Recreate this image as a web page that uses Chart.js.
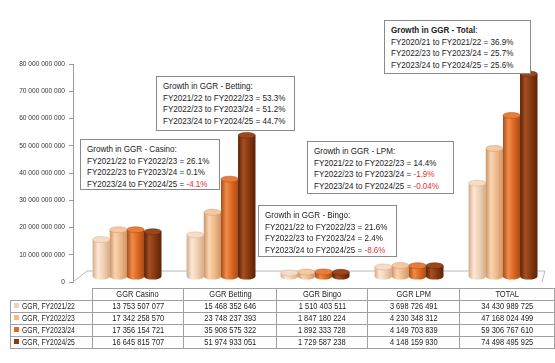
<!DOCTYPE html>
<html>
<head>
<meta charset="utf-8">
<script src="https://cdn.jsdelivr.net/npm/chart.js@4.4.1/dist/chart.umd.min.js"></script>
<style>
  html, body { margin: 0; padding: 0; background: #fff; }
  #wrap { position: relative; width: 555px; height: 363px; overflow: hidden;
          font-family: 'Liberation Sans', Arial, sans-serif; color: #222; }
  #chartBox { position: absolute; left: 0; top: 0; width: 555px; height: 290px; }
  .note { position: absolute; background: #fff; border: 1px solid #8a8a8a; box-sizing: border-box;
          padding: 3px 0 0 6px; font-size: 9.5px; line-height: 11.6px; white-space: nowrap; }
  .note .in { transform: scaleX(0.85); transform-origin: 0 0; }
  .neg { color: #e0303a; }
  #table { position: absolute; left: 10px; top: 288px; border-collapse: collapse; table-layout: fixed; font-size: 9px; }
  #table td { height: 11px; padding: 0; border: 1px solid #a0a0a0; text-align: center; line-height: 11px; white-space: nowrap; }
  #table td span.t { display: inline-block; transform: scaleX(0.83); }
  #table td.leg { text-align: left; padding-left: 3px; }
  #table td.leg span.t { transform: scaleX(0.76); transform-origin: 0 50%; }
  #table td.blank { border: none; }
  .sw { display: inline-block; width: 5px; height: 5px; margin-right: 3px; vertical-align: 1px; }
</style>
</head>
<body>
<div id="wrap">
  <div id="chartBox"><canvas id="ggrChart"></canvas></div>
  <table id="table"></table>
</div>
<script>
const categories = ['GGR Casino', 'GGR Betting', 'GGR Bingo', 'GGR LPM', 'TOTAL'];
const seriesNames = ['GGR, FY2021/22', 'GGR, FY2022/23', 'GGR, FY2023/24', 'GGR, FY2024/25'];
const ggr2122 = [13753507077, 15468352646, 1510403511, 3698726491, 34430989725];
const ggr2223 = [17342258570, 23748237393, 1847180224, 4230348312, 47168024499];
const ggr2324 = [17356154721, 35908575322, 1892333728, 4149703839, 59306767610];
const ggr2425 = [16645815707, 51974933051, 1729587238, 4148159930, 74498495925];
const yMax = 80000000000;
const yStep = 10000000000;

// growth notes: [title, [label, value] x3]
const notesCasino = ['Growth in GGR - Casino:', [['FY2021/22 to FY2022/23 = ', '26.1%'], ['FY2022/23 to FY2023/24 = ', '0.1%'], ['FY2023/24 to FY2024/25 = ', '-4.1%']]];
const notesBetting = ['Growth in GGR - Betting:', [['FY2021/22 to FY2022/23 = ', '53.3%'], ['FY2022/23 to FY2023/24 = ', '51.2%'], ['FY2023/24 to FY2024/25 = ', '44.7%']]];
const notesBingo = ['Growth in GGR - Bingo:', [['FY2021/22 to FY2022/23 = ', '21.6%'], ['FY2022/23 to FY2023/24 = ', '2.4%'], ['FY2023/24 to FY2024/25 = ', '-8.6%']]];
const notesLpm = ['Growth in GGR - LPM:', [['FY2021/22 to FY2022/23 = ', '14.4%'], ['FY2022/23 to FY2023/24 = ', '-1.9%'], ['FY2023/24 to FY2024/25 = ', '-0.04%']]];
const notesTotal = ['Growth in GGR - Total', [['FY2020/21 to FY2021/22 = ', '36.9%'], ['FY2022/23 to FY2023/24 = ', '25.7%'], ['FY2023/24 to FY2024/25 = ', '25.6%']]];

// cylinder shades per series
const shades = [
  { base: '#f3d2b4', light: '#fbe8d8', dark: '#d4ad8c', top: '#f6dcc6' },
  { base: '#f0bc8c', light: '#f9d4b2', dark: '#cf9566', top: '#f4c9a2' },
  { base: '#e06a24', light: '#ef8c4c', dark: '#a94c16', top: '#e87c3a' },
  { base: '#8a3a12', light: '#a64f22', dark: '#5a2208', top: '#9a4719' }
];

function fmt(n) {
  return String(Math.round(n)).replace(/\B(?=(\d{3})+(?!\d))/g, ' ');
}

// Growth boxes
function addNote(note, left, top, w, h, boldTitle) {
  const d = document.createElement('div');
  d.className = 'note';
  Object.assign(d.style, { left: left + 'px', top: top + 'px', width: w + 'px', height: h + 'px' });
  let html = boldTitle ? '<b>' + note[0] + '</b>:' : note[0];
  note[1].forEach(([lab, val]) => {
    const cls = val.startsWith('-') ? ' class="neg"' : '';
    html += '<br>' + lab + '<span' + cls + '>' + val + '</span>';
  });
  d.innerHTML = '<div class="in">' + html + '</div>';
  document.getElementById('wrap').appendChild(d);
}

// Data table under the chart
function buildTable() {
  const t = document.getElementById('table');
  const colW = [63, 93, 94, 93, 94, 96];
  let html = '<tr><td class="blank" style="width:' + colW[0] + 'px"></td>';
  categories.forEach((c, i) => { html += '<td style="width:' + colW[i + 1] + 'px"><span class="t">' + c + '</span></td>'; });
  html += '</tr>';
  [ggr2122, ggr2223, ggr2324, ggr2425].forEach((row, s) => {
    html += '<tr><td class="leg"><span class="sw" style="background:' + shades[s].base + '"></span><span class="t">' + seriesNames[s] + '</span></td>';
    row.forEach(v => { html += '<td><span class="t">' + fmt(v) + '</span></td>'; });
    html += '</tr>';
  });
  t.innerHTML = html;
}

// 3D-ish floor + cylinders
const depthX = 7, depthY = -5;
const cylinderPlugin = {
  id: 'cylinders',
  beforeDatasetsDraw(chart) {
    const { ctx, chartArea: a } = chart;
    ctx.save();
    ctx.strokeStyle = '#b8b8b8';
    ctx.lineWidth = 1;
    ctx.beginPath();
    ctx.moveTo(a.left, a.bottom);
    ctx.lineTo(a.left + 14, a.bottom - 11);
    ctx.lineTo(a.right + 2, a.bottom - 11);
    ctx.lineTo(a.right - 1, a.bottom);
    ctx.stroke();
    ctx.restore();
    ctx.save();
    ctx.translate(depthX, depthY);
  },
  afterDatasetsDraw(chart) {
    const ctx = chart.ctx;
    chart.data.datasets.forEach((ds, di) => {
      const sh = shades[di];
      chart.getDatasetMeta(di).data.forEach(bar => {
        const { x, y, base, width } = bar.getProps(['x', 'y', 'base', 'width'], true);
        const l = x - width / 2, r = x + width / 2, rx = width / 2, ry = 3;
        const g = ctx.createLinearGradient(l, 0, r, 0);
        g.addColorStop(0, sh.dark);
        g.addColorStop(0.3, sh.light);
        g.addColorStop(0.6, sh.base);
        g.addColorStop(1, sh.dark);
        ctx.beginPath();
        ctx.moveTo(l, y);
        ctx.lineTo(l, base);
        ctx.ellipse(x, base, rx, ry, 0, Math.PI, 0, true);
        ctx.lineTo(r, y);
        ctx.closePath();
        ctx.fillStyle = g;
        ctx.fill();
        ctx.beginPath();
        ctx.ellipse(x, y, rx, ry, 0, 0, Math.PI * 2);
        ctx.fillStyle = sh.top;
        ctx.fill();
        ctx.strokeStyle = sh.dark;
        ctx.lineWidth = 0.5;
        ctx.stroke();
      });
    });
    ctx.restore();
  }
};

const series = [ggr2122, ggr2223, ggr2324, ggr2425];
const chart = new Chart(document.getElementById('ggrChart').getContext('2d'), {
  type: 'bar',
  data: {
    labels: categories,
    datasets: series.map((vals, i) => ({
      label: seriesNames[i],
      data: vals,
      backgroundColor: shades[i].base,
      borderWidth: 0,
      clip: false
    }))
  },
  options: {
    responsive: true,
    maintainAspectRatio: false,
    devicePixelRatio: 1,
    animation: false,
    datasets: { bar: { categoryPercentage: 0.73, barPercentage: 1.0 } },
    layout: { padding: { top: 64, right: 12, bottom: 2, left: 0 } },
    plugins: { legend: { display: false }, tooltip: { enabled: false } },
    scales: {
      x: { display: false },
      y: {
        min: 0,
        max: yMax,
        afterFit: s => { s.width = 73; },
        border: { color: '#9a9a9a' },
        grid: { drawOnChartArea: false, drawTicks: true, tickLength: 4, color: '#9a9a9a' },
        ticks: {
          stepSize: yStep,
          padding: 4,
          color: '#333',
          font: { family: "'Liberation Sans', Arial, sans-serif", size: 6.6 },
          callback: v => fmt(v)
        }
      }
    }
  },
  plugins: [cylinderPlugin]
});

buildTable();
addNote(notesCasino, 80, 139, 140, 51, false);
addNote(notesBetting, 156, 76, 139, 55, false);
addNote(notesTotal, 384, 20, 147, 54, true);
addNote(notesLpm, 307, 141, 147, 53, false);
addNote(notesBingo, 258, 205, 139, 52, false);
</script>
</body>
</html>
